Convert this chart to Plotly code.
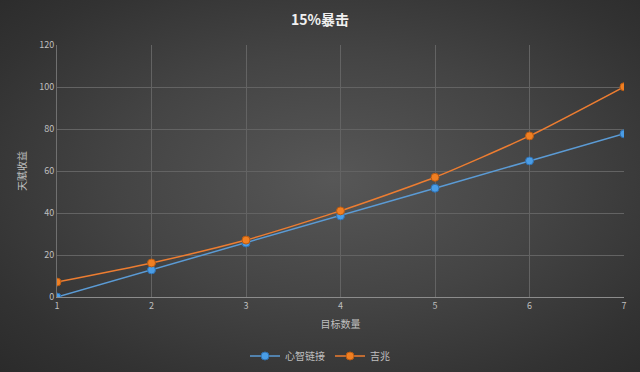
import plotly.graph_objects as go

targets = [1, 2, 3, 4, 5, 6, 7]
xinzhi = [0, 12.9, 25.7, 38.6, 51.8, 64.8, 77.7]
jizhao = [7.1, 16.2, 27.1, 41.0, 57.0, 76.7, 100.1]
y_ticks = [0, 20, 40, 60, 80, 100, 120]

font_cjk = "Noto Sans CJK SC"

fig = go.Figure()
fig.add_trace(go.Scatter(
    x=targets, y=xinzhi, name="心智链接", mode="lines+markers",
    line=dict(color="#5b9bd5", width=1.5),
    marker=dict(size=8, color="#4a9de6", line=dict(color="#2f6fb0", width=1)),
))
fig.add_trace(go.Scatter(
    x=targets, y=jizhao, name="吉兆", mode="lines+markers",
    line=dict(color="#ed7d31", width=1.5, shape="spline", smoothing=0.6),
    marker=dict(size=8, color="#f07f22", line=dict(color="#b85a12", width=1)),
))

fig.update_layout(
    width=640, height=372,
    margin=dict(l=57, r=16, t=45, b=75),
    paper_bgcolor="rgba(0,0,0,0)",
    plot_bgcolor="rgba(0,0,0,0)",
    title=dict(text="<b>15%暴击</b>", x=0.5, xanchor="center", y=0.945, yanchor="middle",
               font=dict(family=font_cjk, size=14, color="#f0f0f0")),
    font=dict(family=font_cjk, color="#bfbfbf", size=9),
    xaxis=dict(range=[1, 7], tickvals=targets, showgrid=True, gridcolor="#636363",
               gridwidth=1, zeroline=False, showline=True, linecolor="#8c8c8c",
               ticks="", tickfont=dict(size=9, color="#bfbfbf"),
               title=dict(text="目标数量", font=dict(size=10, color="#bfbfbf"), standoff=10)),
    yaxis=dict(range=[0, 120], tickvals=y_ticks, showgrid=True, gridcolor="#636363",
               gridwidth=1, zeroline=False, showline=True, linecolor="#707070",
               ticks="", tickfont=dict(size=9, color="#bfbfbf"),
               title=dict(text="天赋收益", font=dict(size=10, color="#bfbfbf"), standoff=10)),
    legend=dict(orientation="h", x=0.5, xanchor="center", xref="container",
                y=0.043, yanchor="middle", yref="container",
                font=dict(size=10, color="#bfbfbf"), bgcolor="rgba(0,0,0,0)",
                itemwidth=30),
    showlegend=True,
)

fig.write_html("out.html", config={"displayModeBar": False})
with open("out.html", encoding="utf-8") as f:
    html = f.read()
style = ('<body style="margin:0;width:640px;height:372px;overflow:hidden;'
         'background:radial-gradient(ellipse 75% 75% at 52% 48%, #575757 0%, #444444 45%, #323232 80%, #2a2a2a 100%)">')
html = html.replace("<body>", style, 1)
with open("out.html", "w", encoding="utf-8") as f:
    f.write(html)
